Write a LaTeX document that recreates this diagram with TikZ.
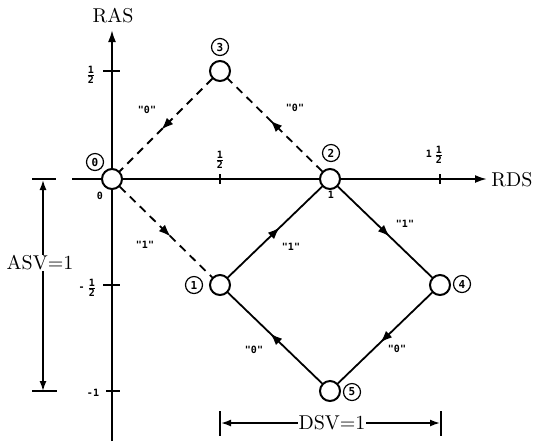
\documentclass[tikz,border=0pt]{standalone}
\usepackage{fontspec}
\newfontfamily\lblfont{DejaVu Sans Mono}
\usetikzlibrary{arrows.meta,decorations.markings}
\begin{document}
\begin{tikzpicture}[x=0.5pt,y=-0.5pt,
  st/.style={circle,draw,line width=1pt,fill=white,minimum size=10pt,inner sep=0pt},
  cl/.style={circle,draw,line width=0.6pt,minimum size=8.5pt,inner sep=0pt,font=\lblfont\bfseries\fontsize{5.5}{6}\selectfont},
  ql/.style={font=\lblfont\bfseries\fontsize{5}{6}\selectfont,inner sep=0pt},
  tl/.style={font=\lblfont\bfseries\fontsize{5}{6}\selectfont,inner sep=0pt},
  ax/.style={line width=1pt},
  tick/.style={line width=1pt},
  ed/.style={line width=0.9pt, postaction={decorate}, decoration={markings, mark=at position 0.55 with {\arrow{Latex[length=6pt,width=4.5pt]}}}},
  dedge/.style={ed, dash pattern=on 4pt off 3pt},
  big/.style={font=\fontsize{10}{12}\selectfont, inner sep=1pt},
  dim/.style={line width=0.8pt,{Latex[length=5pt,width=3.5pt]}-{Latex[length=5pt,width=3.5pt]}}
]
\useasboundingbox (0,0) rectangle (534,441);
% axes
\coordinate (xs) at (72,179);
\coordinate (xe) at (487,179);
\coordinate (ys) at (112,441);
\coordinate (ye) at (112,30);
\draw[ax,-{Latex[length=6pt,width=4pt]}] (xs) -- (xe);
\draw[ax,-{Latex[length=6pt,width=4pt]}] (ys) -- (ye);
\node[big] (ras) at (113,16) {RAS};
\node[big,anchor=west] (rds) at (489,180) {RDS};
% ticks
\draw[tick] (103,71) -- (120,71);
\draw[tick] (103,285) -- (120,285);
\draw[tick] (106,391) -- (120,391);
\draw[line width=0.8pt] (220,174) -- (220,184);
\draw[line width=0.8pt] (440,174) -- (440,184);
% tick labels
\node[tl] (th1) at (91,75) {$\frac{\textbf{1}}{\textbf{2}}$};
\node[tl] (th2) at (220,160) {$\frac{\textbf{1}}{\textbf{2}}$};
\node[tl] (th3) at (435,155) {1\,$\frac{\textbf{1}}{\textbf{2}}$};
\node[tl] (th4) at (88,288) {-\,$\frac{\textbf{1}}{\textbf{2}}$};
\node[tl] (th5) at (93,393) {-1};
\node[tl] (tz) at (100,196) {0};
\node[tl] (to) at (331,195) {1};
% states
\node[st] (n0) at (112,179) {};
\node[st] (n2) at (330,179) {};
\node[st] (n3) at (220,71) {};
\node[st] (n1) at (220,285) {};
\node[st] (n4) at (440,285) {};
\node[st] (n5) at (330,391) {};
% circled labels
\node[cl] (c0) at (95,162) {0};
\node[cl] (c3) at (220,47) {3};
\node[cl] (c2) at (331,153) {2};
\node[cl] (c4) at (462,284) {4};
\node[cl] (c1) at (194,285) {1};
\node[cl] (c5) at (352,392) {5};
% edges
\draw[dedge] (n3) -- (n0);
\draw[dedge] (n2) -- (n3);
\draw[dedge] (n0) -- (n1);
\draw[ed] (n1) -- (n2);
\draw[ed] (n2) -- (n4);
\draw[ed] (n4) -- (n5);
\draw[ed] (n5) -- (n1);
% edge labels
\node[ql] (q30) at (147,110) {"0"};
\node[ql] (q23) at (295,108) {"0"};
\node[ql] (q01) at (145,245) {"1"};
\node[ql] (q12) at (291,247) {"1"};
\node[ql] (q24) at (405,224) {"1"};
\node[ql] (q45) at (397,349) {"0"};
\node[ql] (q51) at (254,350) {"0"};
% ASV dimension
\coordinate (a1) at (43,180);
\coordinate (a2) at (43,391);
\draw[line width=1pt] (32,179) -- (56,179);
\draw[line width=1pt] (32,391) -- (57,391);
\draw[dim] (a1) -- (a2);
\node[big,fill=white,inner sep=0.5pt] (asv) at (40,263) {ASV=1};
% DSV dimension
\coordinate (d1) at (221,423);
\coordinate (d2) at (440,423);
\draw[line width=1pt] (220,411) -- (220,436);
\draw[line width=1pt] (441,411) -- (441,436);
\draw[dim] (d1) -- (d2);
\node[big,fill=white,inner sep=0.5pt] (dsv) at (332,423) {DSV=1};
\end{tikzpicture}
\end{document}
